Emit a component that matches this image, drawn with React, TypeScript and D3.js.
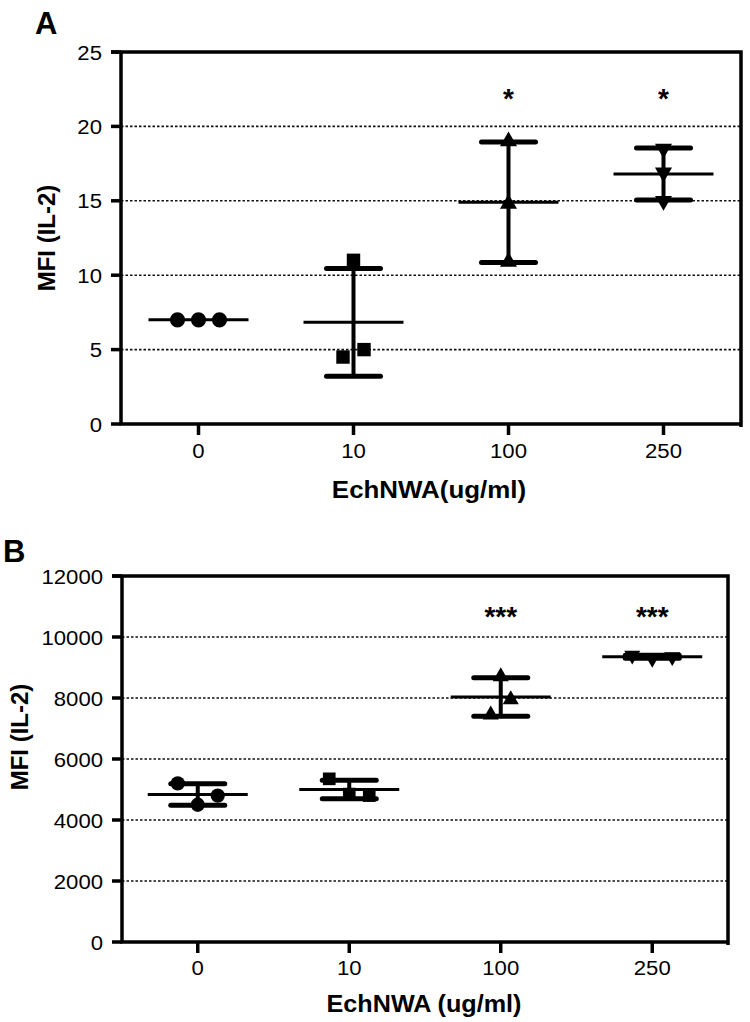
import React from "react";
import * as d3 from "d3";

const categories = ["0", "10", "100", "250"];
const markerKinds = ["circle", "square", "triangle", "triangleDown"];

const mfiA = [
  [7, 7, 7],
  [11, 4.5, 5],
  [19, 14.8, 10.9],
  [18.5, 16.9, 15.0],
];
const jitterA = [
  [-1, 0, 1],
  [0, -0.5, 0.5],
  [0, 0, 0],
  [0, 0, 0],
];
const starsA = ["", "", "*", "*"];
const yTicksA = [0, 5, 10, 15, 20, 25];

const mfiB = [
  [5200, 4500, 4800],
  [5350, 4850, 4800],
  [8700, 7450, 7950],
  [9400, 9300, 9350],
];
const jitterB = [
  [-1, 0, 1],
  [-1, 0, 1],
  [0, -0.5, 0.5],
  [-1, 0, 1],
];
const starsB = ["", "", "***", "***"];
const yTicksB = [0, 2000, 4000, 6000, 8000, 10000, 12000];

const FONT = "'Liberation Sans', Arial, Helvetica, sans-serif";

function markerPath(kind: string, size: number) {
  const type =
    kind === "circle"
      ? d3.symbolCircle
      : kind === "square"
      ? d3.symbolSquare
      : d3.symbolTriangle;
  const s = kind === "circle" || kind === "square" ? size : size * 0.7;
  return d3.symbol().type(type).size(s)() as string;
}

type PanelProps = {
  letter: string;
  letterX: number;
  letterY: number;
  left: number;
  right: number;
  top: number;
  bottom: number;
  values: number[][];
  jitter: number[][];
  stars: string[];
  yTicks: number[];
  xTitle: string;
  xTitleX: number;
  xTitleY: number;
  xTitleScale: number;
  yTitleX: number;
  yTitleY: number;
  jitterStep: number;
  markerSize: number;
  tickLabelY: number;
  starY: number;
};

function Panel(p: PanelProps) {
  const yMax = p.yTicks[p.yTicks.length - 1];
  const y = d3.scaleLinear().domain([0, yMax]).range([p.bottom, p.top]);
  const x = d3
    .scaleBand()
    .domain(categories)
    .range([p.left, p.right])
    .paddingInner(0)
    .paddingOuter(0);
  const cx = (c: string) => (x(c) as number) + x.bandwidth() / 2;
  const meanHalf = 50;
  const capHalf = 27;

  return (
    <g fontFamily={FONT} fill="#000">
      <text x={p.letterX} y={p.letterY} fontSize={31} fontWeight="bold">
        {p.letter}
      </text>
      {p.yTicks
        .filter((t) => t > 0 && t < yMax)
        .map((t) => (
          <line
            key={"g" + t}
            x1={p.left}
            x2={p.right}
            y1={y(t)}
            y2={y(t)}
            stroke="#111"
            strokeWidth={1.6}
            strokeDasharray="2.5 2"
          />
        ))}
      {p.yTicks.map((t) => (
        <g key={"yt" + t}>
          <line
            x1={p.left - 10}
            x2={p.left}
            y1={y(t)}
            y2={y(t)}
            stroke="#000"
            strokeWidth={3.5}
          />
          <text
            transform={`translate(${p.left - 19},${y(t) + 7.5}) scale(1.08,1)`}
            textAnchor="end"
            fontSize={20.5}
          >
            {t}
          </text>
        </g>
      ))}
      {categories.map((c) => (
        <g key={"xt" + c}>
          <line
            x1={cx(c)}
            x2={cx(c)}
            y1={p.bottom}
            y2={p.bottom + 11}
            stroke="#000"
            strokeWidth={3.5}
          />
          <text
            transform={`translate(${cx(c)},${p.tickLabelY}) scale(1.08,1)`}
            textAnchor="middle"
            fontSize={20.5}
          >
            {c}
          </text>
        </g>
      ))}
      <path
        d={`M${p.left - 10},${p.top}H${p.right}V${p.bottom + 3}M${p.left},${p.top}V${p.bottom}H${p.right}`}
        fill="none"
        stroke="#000"
        strokeWidth={3.5}
      />
      {categories.map((c, i) => {
        const vals = p.values[i];
        const m = d3.mean(vals) as number;
        const sd = (d3.deviation(vals) as number) || 0;
        const xc = cx(c);
        const kind = markerKinds[i];
        const path = markerPath(kind, p.markerSize);
        return (
          <g key={"grp" + c}>
            {sd > 0 && (
              <g stroke="#000" strokeLinecap="round">
                <line x1={xc} x2={xc} y1={y(m - sd)} y2={y(m + sd)} strokeWidth={4} />
                <line
                  x1={xc - capHalf}
                  x2={xc + capHalf}
                  y1={y(m + sd)}
                  y2={y(m + sd)}
                  strokeWidth={5}
                />
                <line
                  x1={xc - capHalf}
                  x2={xc + capHalf}
                  y1={y(m - sd)}
                  y2={y(m - sd)}
                  strokeWidth={5}
                />
              </g>
            )}
            <line
              x1={xc - meanHalf}
              x2={xc + meanHalf}
              y1={y(m)}
              y2={y(m)}
              stroke="#000"
              strokeWidth={3}
            />
            {vals.map((v, j) => (
              <path
                key={j}
                d={path}
                transform={`translate(${xc + p.jitter[i][j] * p.jitterStep},${y(v)})${
                  kind === "triangleDown" ? " rotate(180)" : ""
                }`}
                fill="#000"
              />
            ))}
            {p.stars[i] && (
              <text
                x={xc}
                y={p.starY}
                textAnchor="middle"
                fontSize={28}
                fontWeight="bold"
              >
                {p.stars[i]}
              </text>
            )}
          </g>
        );
      })}
      <text
        transform={`translate(${p.xTitleX},${p.xTitleY}) scale(${p.xTitleScale},1)`}
        textAnchor="middle"
        fontSize={24}
        fontWeight="bold"
      >
        {p.xTitle}
      </text>
      <text
        transform={`translate(${p.yTitleX},${p.yTitleY}) rotate(-90)`}
        textAnchor="middle"
        fontSize={24}
        fontWeight="bold"
      >
        MFI (IL-2)
      </text>
    </g>
  );
}

export default function App() {
  return (
    <svg
      width={750}
      height={1022}
      style={{ position: "absolute", left: 0, top: 0, background: "#fff" }}
    >
      <rect width={750} height={1022} fill="#fff" />
      <Panel
        letter="A"
        letterX={35}
        letterY={34}
        left={121}
        right={741}
        top={52}
        bottom={424}
        values={mfiA}
        jitter={jitterA}
        stars={starsA}
        yTicks={yTicksA}
        xTitle="EchNWA(ug/ml)"
        xTitleX={429}
        xTitleY={498}
        xTitleScale={1.08}
        yTitleX={55}
        yTitleY={238}
        jitterStep={21}
        markerSize={180}
        tickLabelY={458}
        starY={108}
      />
      <Panel
        letter="B"
        letterX={3}
        letterY={562}
        left={122}
        right={728}
        top={576}
        bottom={942}
        values={mfiB}
        jitter={jitterB}
        stars={starsB}
        yTicks={yTicksB}
        xTitle="EchNWA (ug/ml)"
        xTitleX={424}
        xTitleY={1012}
        xTitleScale={1.05}
        yTitleX={28}
        yTitleY={737}
        jitterStep={20}
        markerSize={160}
        tickLabelY={975}
        starY={626}
      />
    </svg>
  );
}
